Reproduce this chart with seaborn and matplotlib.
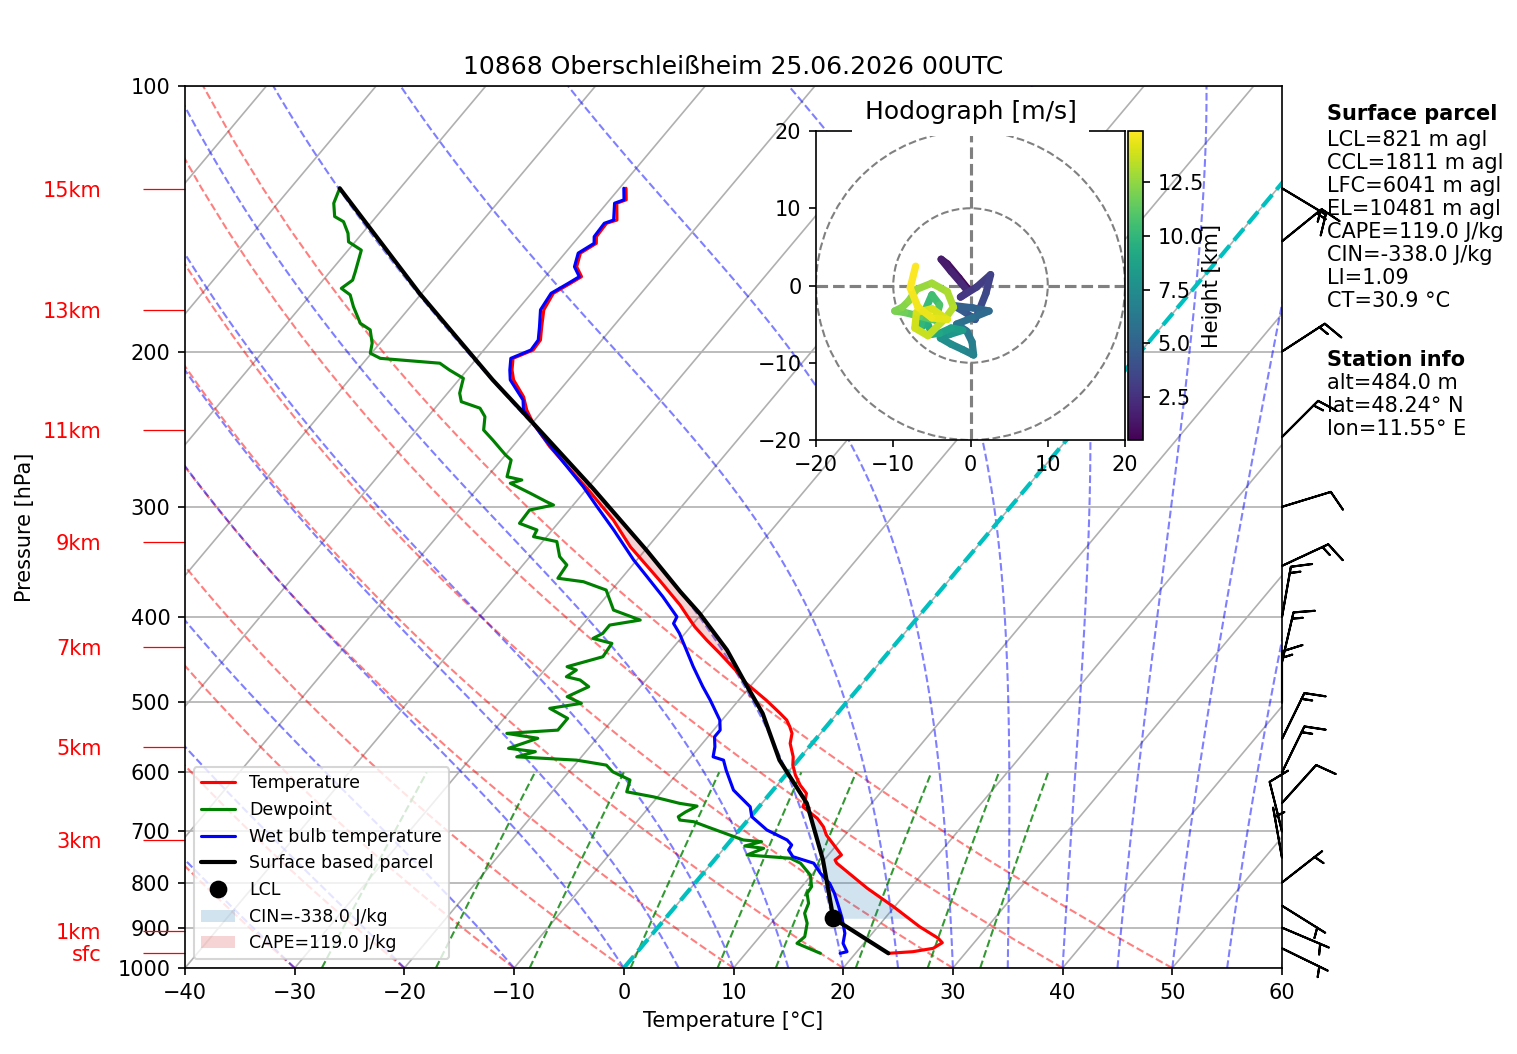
import numpy as np
import matplotlib
matplotlib.use("Agg")
import matplotlib.pyplot as plt
import seaborn as sns
from matplotlib.collections import LineCollection
from matplotlib.patches import Circle
from matplotlib.colors import Normalize
from matplotlib.ticker import FixedLocator, FixedFormatter

# ---------------- data ----------------
station_name = "10868 Oberschleißheim"
valid_time = "25.06.2026 00UTC"

temp_p = [962.4, 958.3, 949.9, 936.1, 925.4, 897.7, 852.1, 812.1, 760.6, 754.3, 744.5, 728.6, 706.7,
          691.6, 676.6, 656.5, 648.0, 633.9, 620.4, 604.4, 588.8, 576.2, 556.4, 542.0, 532.8, 523.5,
          514.5, 496.9, 475.6, 459.4, 439.8, 424.9, 410.4, 399.8, 387.8, 363.3, 333.0, 310.5, 288.4,
          274.9, 256.4, 241.2, 233.0, 225.1, 215.4, 209.9, 203.6, 199.2, 194.1, 187.5, 179.4, 171.8,
          167.4, 164.5, 160.3, 154.7, 150.8, 148.2, 143.1, 141.9, 135.8, 134.6, 130.6]
temp_T = [23.0, 25.1, 26.7, 27.1, 26.4, 23.8, 19.9, 16.1, 11.4, 11.0, 11.2, 10.0, 8.3,
          7.4, 6.2, 4.0, 3.8, 3.3, 2.1, 0.9, -0.1, -0.7, -2.0, -2.6, -3.3, -4.1,
          -5.2, -7.5, -10.6, -12.6, -15.3, -17.5, -19.6, -21.0, -22.6, -26.4, -31.6, -35.2, -39.5,
          -42.4, -46.6, -49.9, -51.5, -52.8, -55.0, -55.9, -56.7, -55.5, -55.6, -56.5, -57.6, -58.0,
          -57.2, -56.7, -57.9, -58.6, -57.9, -58.4, -58.5, -57.8, -59.1, -58.5, -59.4]

wetbulb_p = [962.4, 958.3, 937.6, 913.4, 878.3, 852.1, 823.0, 801.8, 781.1, 760.6, 747.8, 734.8,
             725.3, 715.9, 697.5, 673.7, 656.5, 628.5, 596.5, 581.2, 576.2, 561.4, 546.9, 537.4,
             523.5, 505.6, 496.9, 479.8, 455.4, 436.0, 417.5, 406.8, 399.8, 379.5, 360.0, 344.6,
             318.7, 299.9, 284.6, 260.9, 247.5, 233.0, 227.0, 215.4, 209.9, 203.6, 199.2, 194.1,
             187.5, 179.4, 171.8, 167.4, 164.5, 160.3, 154.7, 150.8, 148.2, 143.1, 141.9, 135.8,
             134.6, 130.6]
wetbulb_T = [18.6, 19.1, 18.1, 17.5, 16.1, 14.9, 13.5, 12.3, 10.7, 9.3, 6.9, 6.0,
             5.9, 5.1, 2.5, 0.1, -0.8, -3.6, -5.8, -6.8, -8.0, -8.6, -9.4, -9.4,
             -10.2, -11.8, -12.6, -14.3, -16.7, -18.6, -20.5, -21.8, -22.0, -24.8, -27.8, -30.3,
             -34.4, -37.7, -40.5, -45.5, -48.5, -51.8, -52.6, -55.3, -56.1, -56.9, -55.7, -55.8,
             -56.7, -57.9, -58.2, -57.4, -56.9, -58.1, -58.8, -58.1, -58.6, -58.7, -58.1, -59.3,
             -58.7, -59.6]

dew_p = [962.4, 937.6, 921.5, 889.9, 866.9, 844.6, 823.0, 808.7, 784.6, 760.6,
         750.9, 744.5, 731.6, 727.2, 719.1, 715.9, 691.6, 682.6, 679.6, 673.7,
         665.5, 655.3, 650.6, 639.6, 631.3, 612.2, 599.2, 588.8, 581.2, 576.2,
         568.5, 563.5, 549.0, 542.0, 537.4, 521.2, 507.7, 501.1, 492.5, 479.8,
         471.5, 467.5, 459.4, 455.4, 443.7, 428.5, 423.0, 417.5, 408.5, 403.2,
         392.8, 372.8, 364.8, 361.5, 349.2, 341.6, 328.5, 324.3, 318.7, 313.2,
         302.5, 298.6, 296.0, 289.6, 282.1, 279.7, 277.3, 265.5, 262.0, 252.0,
         245.5, 237.1, 231.9, 228.0, 223.0, 214.5, 209.9, 206.2, 203.6, 200.9,
         195.7, 189.0, 185.8, 177.9, 172.5, 169.6, 166.0, 162.4, 153.5, 150.2,
         146.9, 142.5, 140.6, 135.8, 130.6]
dew_T = [16.8, 13.9, 14.1, 13.3, 12.3, 11.9, 11.0, 10.9, 9.9, 8.1,
         6.8, 2.6, 3.6, 1.7, 2.9, 1.1, -3.2, -4.8, -6.2, -6.6,
         -6.3, -5.7, -7.5, -10.4, -13.2, -13.8, -16.0, -17.1, -20.2, -25.9,
         -24.6, -27.3, -25.4, -28.6, -24.2, -24.2, -26.6, -24.1, -25.9, -24.7,
         -26.0, -27.5, -27.1, -28.2, -25.7, -25.9, -28.0, -27.5, -27.5, -25.1,
         -28.3, -30.5, -33.2, -35.8, -36.0, -37.3, -38.7, -41.2, -41.4, -43.5,
         -43.6, -41.8, -42.7, -44.8, -47.4, -46.6, -48.2, -49.1, -50.0, -52.3,
         -53.9, -54.8, -55.9, -58.1, -58.9, -59.7, -61.6, -63.0, -68.8, -70.1,
         -70.7, -71.9, -73.3, -75.2, -76.4, -77.7, -77.3, -77.7, -78.8, -80.6,
         -81.3, -82.6, -83.8, -84.9, -85.5]

parcel_p = [962.4, 878.3, 754.3, 650.6, 581.2, 514.5, 471.5, 436.0, 396.2, 374.5, 335.8, 285.8,
            241.2, 215.4, 171.8, 130.6]
parcel_T = [23.0, 15.3, 9.9, 4.1, -1.7, -6.8, -11.1, -14.9, -20.2, -23.6, -29.9, -39.5,
            -49.9, -56.9, -70.2, -85.5]

lcl_p = 878.3
lcl_T = 15.3

# wind barbs (direction the wind comes from, speed in kt)
barb_p = [130.6, 150, 200, 250, 300, 350, 400, 450, 500, 550, 600, 650, 700, 750, 800, 850, 900, 950]
barb_dir = [121, 51, 57, 45, 73, 65, 10, 13, 0, 26, 26, 42, 346, 350, 52, 122, 113, 116]
barb_kt = [15, 15, 15, 15, 10, 15, 15, 15, 15, 15, 15, 10, 10, 5, 5, 5, 5, 5]

# height markers on the pressure axis
height_p = [962.6, 908.0, 716.0, 562.0, 433.0, 329.0, 245.7, 179.3, 131.0]
height_labels = ["sfc", "1km", "3km", "5km", "7km", "9km", "11km", "13km", "15km"]

# hodograph (height km, u m/s, v m/s)
hodo_height = [0.48, 0.8, 1.1, 1.4, 1.7, 2.0, 2.3, 2.6, 2.9, 3.2, 3.5, 3.8, 4.1, 4.4, 4.7,
               5.0, 5.3, 5.6, 5.9, 6.2, 6.5, 6.8, 7.1, 7.4, 7.7, 8.0, 8.3, 8.6, 8.9, 9.2,
               9.5, 9.8, 10.1, 10.4, 10.7, 11.0, 11.3, 11.6, 11.9, 12.2, 12.4, 12.6, 12.8, 13.0,
               13.2, 13.4, 13.6, 13.8, 13.9, 14.0, 14.2, 14.4, 14.55, 14.7, 14.9]
hodo_u = [-0.3, -1.5, -3.0, -3.8, -2.5, -1.2, -0.3, -1.3, 0.8, 2.6, 2.0, 1.2, 0.6, -0.8, -2.2,
          0.3, 2.4, 0.2, -1.8, -0.5, 0.2, 0.4, -1.0, -2.5, -3.9, -2.6, -1.0, -2.5, -4.0, -5.0,
          -5.6, -6.5, -6.0, -5.0, -4.0, -4.5, -6.5, -8.5, -9.8, -8.8, -8.0, -7.0, -5.0, -3.0,
          -2.2, -3.3, -5.5, -7.2, -7.0, -5.0, -3.0, -5.0, -6.8, -7.8, -7.1]
hodo_v = [-0.5, 1.0, 2.8, 3.4, 1.8, 0.3, -0.8, -1.5, -0.2, 1.4, -1.0, -3.0, -4.4, -3.4, -2.6,
          -2.9, -3.3, -4.2, -5.0, -5.9, -7.3, -9.0, -8.3, -7.6, -6.8, -6.3, -5.8, -5.5, -6.2, -6.3,
          -4.8, -5.5, -3.5, -1.2, -2.5, -4.5, -4.0, -3.5, -3.3, -2.8, -2.0, -0.5, 0.3, -0.8,
          -2.8, -4.3, -6.5, -5.5, -3.5, -3.0, -4.4, -4.2, -2.8, -0.3, 2.5]

# parcel / station info
lcl_m, ccl_m, lfc_m, el_m = 821, 1811, 6041, 10481
cape_jkg, cin_jkg, li_val, ct_val = 119.0, -338.0, 1.09, 30.9
alt_m, lat_deg, lon_deg = 484.0, 48.24, 11.55

# ---------------- style ----------------
sns.set_style("white")
plt.rcParams.update({
    "font.family": ["DejaVu Sans"],
    "font.size": 10,
    "text.color": "black",
    "axes.labelcolor": "black",
    "axes.titlesize": 12,
    "axes.labelsize": 10,
    "xtick.labelsize": 10,
    "ytick.labelsize": 10,
    "legend.fontsize": "small",
    "axes.edgecolor": "black",
    "axes.linewidth": 0.8,
    "xtick.bottom": True,
    "ytick.left": True,
    "xtick.color": "black",
    "ytick.color": "black",
    "xtick.labelcolor": "black",
    "ytick.labelcolor": "black",
    "xtick.major.size": 3.5,
    "ytick.major.size": 3.5,
    "xtick.major.width": 0.8,
    "ytick.major.width": 0.8,
})

SKEW = 67.42  # degC of x-shift per decade of pressure


def skew_x(t, p):
    return np.asarray(t, float) + SKEW * np.log10(1000.0 / np.asarray(p, float))


def moist_lapse(t0_c, p):
    rd, cp, lv, eps = 287.04749, 1004.6662, 2.50084e6, 0.6219569

    def rate(t, pr):
        es = 6.112 * np.exp(17.67 * (t - 273.15) / (t - 29.65))
        rs = eps * es / (pr - es)
        return (rd * t + lv * rs) / (cp + lv * lv * rs * eps / (rd * t * t)) / pr

    out = np.empty((len(t0_c), len(p)))
    t = np.asarray(t0_c, float) + 273.15
    out[:, 0] = t
    for i in range(1, len(p)):
        h = p[i] - p[i - 1]
        pr = p[i - 1]
        k1 = rate(t, pr)
        k2 = rate(t + 0.5 * h * k1, pr + 0.5 * h)
        k3 = rate(t + 0.5 * h * k2, pr + 0.5 * h)
        k4 = rate(t + h * k3, pr + h)
        t = t + h * (k1 + 2 * k2 + 2 * k3 + k4) / 6.0
        out[:, i] = t
    return out - 273.15


W, H, DPI = 1517, 1054, 150
fig = plt.figure(figsize=(W / DPI, H / DPI), dpi=DPI)
ax = fig.add_axes([185 / W, 1 - 968 / H, 1097 / W, 882 / H])
ax.set_yscale("log")

# isotherms (skewed grid)
for t in np.arange(-120, 61, 10):
    ax.plot(skew_x([t, t], [1000, 100]), [1000, 100], color="#b0b0b0", lw=0.8, zorder=0.9)

p_bg = np.linspace(1000, 100, 60)
# dry adiabats
theta0 = np.arange(-40, 51, 10)
t_dry = (theta0[:, None] + 273.15) * (p_bg[None, :] / 1000.0) ** 0.2857 - 273.15
ax.add_collection(LineCollection([np.column_stack((skew_x(td, p_bg), p_bg)) for td in t_dry],
                                 colors="r", linestyles="dashed", alpha=0.5, linewidths=1.0, zorder=1))
# moist adiabats
t0_moist = np.concatenate((np.arange(-40, 0, 10), np.arange(0, 61, 5)))
p_fine = np.linspace(1000, 100, 300)
t_moist = moist_lapse(t0_moist, p_fine)
ax.add_collection(LineCollection([np.column_stack((skew_x(tm, p_fine), p_fine)) for tm in t_moist],
                                 colors="b", linestyles="dashed", alpha=0.5, linewidths=1.0, zorder=1))
# mixing ratio lines
w_mix = np.array([0.0004, 0.001, 0.002, 0.004, 0.007, 0.01, 0.016, 0.024, 0.032])
p_mix = np.linspace(1000, 600, 50)
segs = []
for w in w_mix:
    e = p_mix * w / (0.6219569 + w)
    lg = np.log(e / 6.112)
    td = 243.5 * lg / (17.67 - lg)
    segs.append(np.column_stack((skew_x(td, p_mix), p_mix)))
ax.add_collection(LineCollection(segs, colors="g", linestyles="dashed", alpha=0.8, linewidths=1.0, zorder=1))

# 0 degC isotherm
ax.plot(skew_x([0, 0], [1000, 100]), [1000, 100], color="c", ls="--", lw=2, zorder=2)

# profiles
sns.lineplot(x=skew_x(temp_T, temp_p), y=temp_p, sort=False, estimator=None, color="red",
             lw=1.5, ax=ax, label="Temperature", legend=False, zorder=4)
h_temp = ax.lines[-1]
sns.lineplot(x=skew_x(dew_T, dew_p), y=dew_p, sort=False, estimator=None, color="green",
             lw=1.5, ax=ax, label="Dewpoint", legend=False, zorder=4)
h_dew = ax.lines[-1]
sns.lineplot(x=skew_x(wetbulb_T, wetbulb_p), y=wetbulb_p, sort=False, estimator=None, color="blue",
             lw=1.5, ax=ax, label="Wet bulb temperature", legend=False, zorder=4)
h_wb = ax.lines[-1]
sns.lineplot(x=skew_x(parcel_T, parcel_p), y=parcel_p, sort=False, estimator=None, color="black",
             lw=2, ax=ax, label="Surface based parcel", legend=False, zorder=5)
h_par = ax.lines[-1]
h_lcl, = ax.plot(skew_x([lcl_T], [lcl_p]), [lcl_p], "o", color="black", ms=7.5, ls="none",
                 label="LCL", zorder=6)

# CAPE / CIN shading
pp = np.geomspace(lcl_p, 225, 600)
lp = -np.log(pp)
t_env = np.interp(lp, -np.log(temp_p), temp_T)
t_par = np.interp(lp, -np.log(parcel_p), parcel_T)
diff = t_par - t_env
pos = np.where(diff > 0)[0]
p_lfc = pp[pos[0]]
p_el = pp[min(pos[-1] + 1, len(pp) - 1)]
x_env = skew_x(t_env, pp)
x_par = skew_x(t_par, pp)
h_cin = ax.fill_betweenx(pp, x_par, x_env, where=(pp >= p_lfc) & (diff <= 0), interpolate=True,
                         color="tab:blue", alpha=0.2, lw=0, label=f"CIN={cin_jkg:.1f} J/kg", zorder=2)
h_cape = ax.fill_betweenx(pp, x_par, x_env, where=(pp <= p_lfc) & (pp >= p_el) & (diff >= 0),
                          interpolate=True, color="tab:red", alpha=0.2, lw=0,
                          label=f"CAPE={cape_jkg:.1f} J/kg", zorder=2)

# wind barbs on the right edge
bd = np.deg2rad(barb_dir)
bu = -np.asarray(barb_kt) * np.sin(bd)
bv = -np.asarray(barb_kt) * np.cos(bd)
ax.barbs(np.ones(len(barb_p)), barb_p, bu, bv, transform=ax.get_yaxis_transform(),
         clip_on=False, length=7, linewidth=1, zorder=6)

# axes setup
ax.set_xlim(-40, 60)
ax.set_ylim(1000, 100)
ax.set_xticks(np.arange(-40, 61, 10))
ax.yaxis.set_major_locator(FixedLocator([100, 200, 300, 400, 500, 600, 700, 800, 900, 1000]))
ax.yaxis.set_major_formatter(FixedFormatter(["100", "200", "300", "400", "500", "600", "700",
                                             "800", "900", "1000"]))
ax.yaxis.set_minor_locator(FixedLocator(height_p))
ax.yaxis.set_minor_formatter(FixedFormatter(height_labels))
ax.tick_params(axis="y", which="minor", length=20, width=0.6, color="red", labelcolor="red",
               pad=20, labelsize=10)
ax.grid(True, axis="y", which="major", color="#b0b0b0", lw=0.8)
ax.grid(False, axis="x")
ax.set_xlabel("Temperature [°C]", color="black")
ax.set_ylabel("Pressure [hPa]", color="black")
ax.set_title(f"{station_name} {valid_time}", color="black")
leg = ax.legend(handles=[h_temp, h_dew, h_wb, h_par, h_lcl, h_cin, h_cape], loc="lower left")
for txt in leg.get_texts():
    txt.set_color("black")

# hodograph inset
hax = fig.add_axes([816 / W, 1 - 440 / H, 309 / W, 309 / H])
hax.set_facecolor("white")
for r in (10, 20):
    hax.add_patch(Circle((0, 0), r, fill=False, ls="--", color="grey", lw=1))
hax.axhline(0, color="grey", ls="--", lw=1.5)
hax.axvline(0, color="grey", ls="--", lw=1.5)
pts = np.column_stack([hodo_u, hodo_v])
hsegs = np.stack([pts[:-1], pts[1:]], axis=1)
hh = np.asarray(hodo_height)
lc = LineCollection(hsegs, cmap="viridis", norm=Normalize(hh.min(), hh.max()), linewidths=3.5,
                    capstyle="round", joinstyle="round")
lc.set_array(0.5 * (hh[:-1] + hh[1:]))
hax.add_collection(lc)
hax.set_xlim(-20, 20)
hax.set_ylim(-20, 20)
hax.set_xticks([-20, -10, 0, 10, 20])
hax.set_yticks([-20, -10, 0, 10, 20])
hax.tick_params(left=True, bottom=True, colors="black")
hax.set_title("Hodograph [m/s]", fontsize=12, color="black",
              bbox=dict(facecolor="white", edgecolor="none", pad=6))
cax = fig.add_axes([1128 / W, 1 - 440 / H, 15 / W, 309 / H])
cb = fig.colorbar(lc, cax=cax)
cb.set_label("Height [km]", labelpad=-1, color="black")
cax.tick_params(right=True, colors="black")

# info text
x0 = 1327 / W
fig.text(x0, 1 - 114 / H, "Surface parcel", fontweight="bold", va="center", ha="left", color="black")
parcel_lines = [f"LCL={lcl_m} m agl", f"CCL={ccl_m} m agl", f"LFC={lfc_m} m agl",
                f"EL={el_m} m agl", f"CAPE={cape_jkg:.1f} J/kg", f"CIN={cin_jkg:.1f} J/kg",
                f"LI={li_val:.2f}", f"CT={ct_val:.1f} °C"]
for i, s in enumerate(parcel_lines):
    fig.text(x0, 1 - (140 + 23.0 * i) / H, s, va="center", ha="left", color="black")
fig.text(x0, 1 - 360 / H, "Station info", fontweight="bold", va="center", ha="left", color="black")
station_lines = [f"alt={alt_m:.1f} m", f"lat={lat_deg:.2f}° N", f"lon={lon_deg:.2f}° E"]
for i, s in enumerate(station_lines):
    fig.text(x0, 1 - (383 + 23.0 * i) / H, s, va="center", ha="left", color="black")

fig.savefig("out.png", dpi=DPI)
